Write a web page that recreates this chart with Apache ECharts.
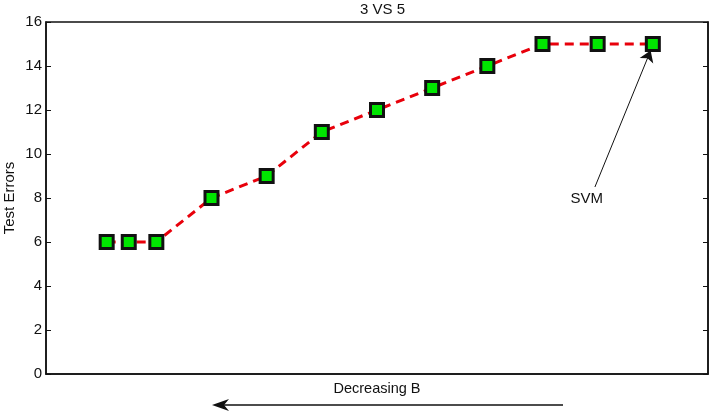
<!DOCTYPE html>
<html>
<head>
<meta charset="utf-8">
<script src="https://cdn.jsdelivr.net/npm/echarts@6/dist/echarts.min.js"></script>
<style>
  html, body { margin: 0; padding: 0; background: #fff; }
  #chart { width: 716px; height: 414px; }
</style>
</head>
<body>
<div id="chart"></div>
<script>
// B 参数位置（从左到右递减）与测试误差
const bPositions = [1.1, 1.5, 2, 3, 4, 5, 6, 7, 8, 9, 10, 11];
const testErrors = [6, 6, 6, 8, 9, 11, 12, 13, 14, 15, 15, 15];
const yTicks = [0, 2, 4, 6, 8, 10, 12, 14, 16];
// SVM 注释：文字位置与箭头起止点（数据坐标）
const svmLabel = [9.8, 7.95];
const svmArrowFrom = [9.95, 8.5];
const svmArrowTo = [10.96, 14.7];

const font = 'Liberation Sans, Arial, sans-serif';
const chart = echarts.init(document.getElementById('chart'));

const option = {
  animation: false,
  textStyle: { fontFamily: font },
  title: {
    text: '3 VS 5',
    left: 355,
    top: -3,
    textStyle: { fontSize: 15, fontWeight: 'normal', color: '#111', fontFamily: font },
  },
  grid: {
    left: 46, right: 8, top: 22, bottom: 40,
    outerBoundsMode: 'none',
    containLabel: false,
    show: true, borderColor: '#111', borderWidth: 1.5, backgroundColor: 'transparent',
  },
  xAxis: {
    type: 'value',
    min: 0,
    max: 12,
    name: 'Decreasing B',
    nameLocation: 'middle',
    nameGap: 7,
    nameTextStyle: { fontSize: 14.5, color: '#111', fontFamily: font },
    axisLine: { show: true, lineStyle: { color: '#111', width: 1.5 } },
    axisTick: { show: false },
    axisLabel: { show: false },
    splitLine: { show: false },
  },
  yAxis: [
    {
      type: 'value',
      min: 0,
      max: 16,
      interval: 2,
      name: 'Test Errors',
      nameLocation: 'middle',
      nameRotate: 90,
      nameGap: 29,
      nameMoveOverlap: false,
      nameTextStyle: { fontSize: 15, color: '#111', fontFamily: font },
      axisLine: { show: true, lineStyle: { color: '#111', width: 1.5 } },
      axisTick: { show: true, inside: true, length: 5, lineStyle: { color: '#111' } },
      axisLabel: {
        fontSize: 15, color: '#111', margin: 4, fontFamily: font,
        formatter: (v) => (yTicks.includes(v) ? String(v) : ''),
      },
      splitLine: { show: false },
    },
    {
      type: 'value',
      position: 'right',
      min: 0,
      max: 16,
      interval: 2,
      axisLine: { show: true, lineStyle: { color: '#111', width: 1.5 } },
      axisTick: { show: true, inside: true, length: 5, lineStyle: { color: '#111' } },
      axisLabel: { show: false },
      splitLine: { show: false },
    },
  ],
  series: [
    {
      type: 'line',
      data: bPositions.map((x, i) => [x, testErrors[i]]),
      symbol: 'rect',
      symbolSize: 13,
      itemStyle: { color: '#00e600', borderColor: '#111', borderWidth: 3 },
      lineStyle: { color: '#e8000b', width: 3, type: [9, 6] },
      z: 3,
      markLine: {
        silent: true,
        symbol: ['none', 'arrow'],
        symbolSize: 11,
        lineStyle: { color: '#111', width: 1, type: 'solid' },
        itemStyle: { color: '#111' },
        label: { show: false },
        data: [[{ coord: svmArrowFrom }, { coord: svmArrowTo }]],
      },
    },
    {
      type: 'scatter',
      data: [svmLabel],
      symbolSize: 1,
      itemStyle: { color: '#111', opacity: 0 },
      label: {
        show: true,
        position: 'inside',
        formatter: 'SVM',
        fontSize: 15,
        color: '#111',
        opacity: 1,
        textBorderWidth: 0,
        fontFamily: font,
      },
      silent: true,
    },
  ],
  graphic: [
    {
      type: 'line',
      shape: { x1: 563, y1: 405, x2: 218, y2: 405 },
      style: { stroke: '#111', lineWidth: 1.4 },
    },
    {
      type: 'polygon',
      shape: { points: [[212, 405], [229, 399], [224, 405], [229, 411]] },
      style: { fill: '#111' },
    },
  ],
};

chart.setOption(option);
</script>
</body>
</html>
